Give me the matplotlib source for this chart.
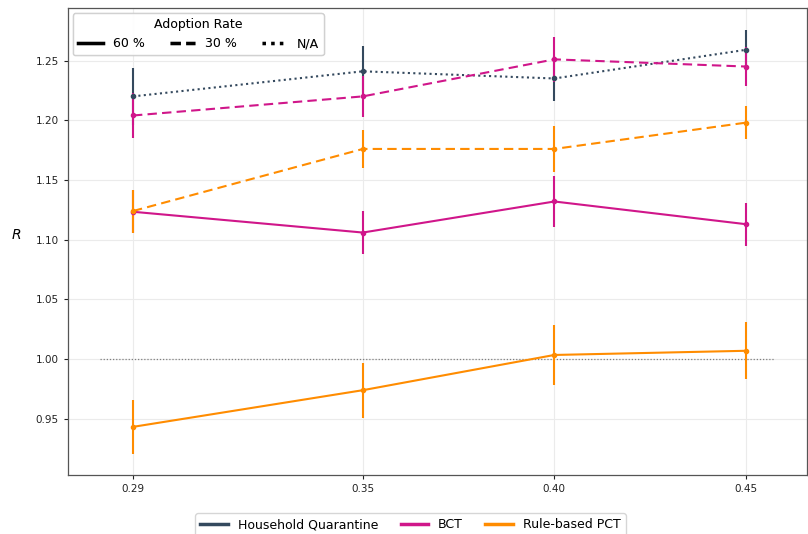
import matplotlib
matplotlib.use("Agg")
import matplotlib.pyplot as plt
from matplotlib.lines import Line2D

# x values: fraction
x = [0.29, 0.35, 0.40, 0.45]

# Household Quarantine (no adoption rate)
hq_na = [1.220, 1.241, 1.235, 1.259]
hq_na_err = [0.024, 0.021, 0.019, 0.017]

# BCT
bct_60 = [1.1234, 1.106, 1.132, 1.113]
bct_60_err = [0.018, 0.018, 0.021, 0.018]
bct_30 = [1.204, 1.220, 1.251, 1.245]
bct_30_err = [0.019, 0.017, 0.019, 0.016]

# Rule-based PCT
pct_60 = [0.9433, 0.974, 1.0035, 1.007]
pct_60_err = [0.0225, 0.023, 0.025, 0.024]
pct_30 = [1.124, 1.176, 1.176, 1.198]
pct_30_err = [0.018, 0.016, 0.019, 0.014]

c_hq = '#34495e'
c_bct = '#d0168a'
c_pct = '#ff8c00'

fig = plt.figure(figsize=(8.08, 5.34), dpi=100)
ax = fig.add_axes([0.084, 0.1105, 0.915, 0.8745])

ax.hlines(1.0, 0.2815, 0.4577, colors='gray', linestyles=(0, (1, 1.5)), linewidth=0.9, zorder=1)

def draw(y, err, color, ls):
    ax.errorbar(x, y, yerr=err, color=color, linestyle=ls, linewidth=1.5,
                marker='o', markersize=3, elinewidth=1.5, capsize=0, zorder=3)

draw(hq_na, hq_na_err, c_hq, (0, (1, 1.6)))
draw(bct_60, bct_60_err, c_bct, '-')
draw(bct_30, bct_30_err, c_bct, (0, (4.5, 2.5)))
draw(pct_60, pct_60_err, c_pct, '-')
draw(pct_30, pct_30_err, c_pct, (0, (4.5, 2.5)))

ax.set_xlim(0.273, 0.466)
ax.set_ylim(0.903, 1.294)
ax.set_xticks(x)
ax.set_xticklabels(['0.29', '0.35', '0.40', '0.45'])
ax.set_yticks([0.95, 1.00, 1.05, 1.10, 1.15, 1.20, 1.25])
ax.tick_params(labelsize=7.5, length=3, colors='#222222')
ax.grid(True, color='#ebebeb', linewidth=0.8)
ax.set_axisbelow(True)
for s in ax.spines.values():
    s.set_color('#555555')
    s.set_linewidth(0.9)

ax.set_ylabel('$R$', rotation=0, fontsize=10, labelpad=14)

style_handles = [
    Line2D([], [], color='black', lw=2.5, ls='-'),
    Line2D([], [], color='black', lw=2.5, ls=(0, (3, 1.5))),
    Line2D([], [], color='black', lw=2.5, ls=(0, (1, 1.5))),
]
leg1 = ax.legend(style_handles, ['60 %', '30 %', 'N/A'], title='Adoption Rate',
                 loc='upper left', ncol=3, fontsize=9, title_fontsize=9,
                 handlelength=2.0, columnspacing=2.0, borderaxespad=0.4,
                 bbox_to_anchor=(0.0, 1.0))
ax.add_artist(leg1)

method_handles = [
    Line2D([], [], color=c_hq, lw=2.5),
    Line2D([], [], color=c_bct, lw=2.5),
    Line2D([], [], color=c_pct, lw=2.5),
]
fig.legend(method_handles, ['Household Quarantine', 'BCT', 'Rule-based PCT'],
           loc='lower center', ncol=3, fontsize=9, bbox_to_anchor=(0.508, -0.016),
           handlelength=2.2, columnspacing=1.8)

fig.savefig('out.png', dpi=100)
